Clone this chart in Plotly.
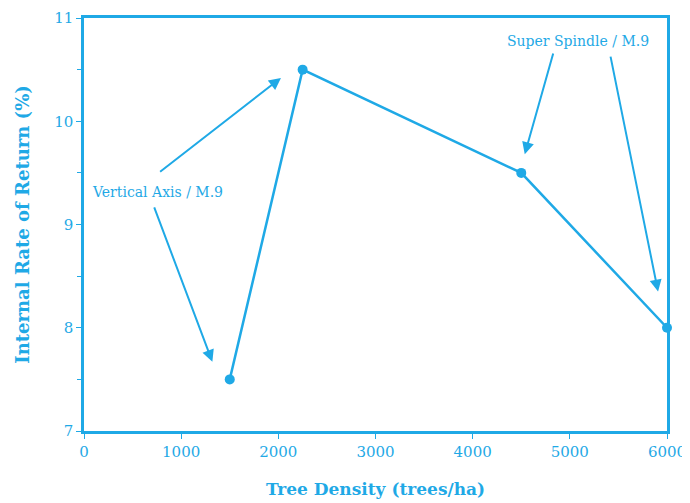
import plotly.graph_objects as go

density = [1500, 2250, 4500, 6000]
irr = [7.5, 10.5, 9.5, 8.0]

labels = ["Vertical Axis / M.9", "Super Spindle / M.9"]
label_pos = [(760, 9.31), (5080, 10.78)]
# arrows: (tail_x, tail_y, tip_x, tip_y)
arrows = [
    (768, 9.5, 2027, 10.42),
    (717, 9.18, 1321, 7.67),
    (4833, 10.67, 4536, 9.68),
    (5416, 10.64, 5908, 8.35),
]

C = "#1fa9e6"
FONT = "DejaVu Serif"

fig = go.Figure()
fig.add_trace(go.Scatter(
    x=density, y=irr, mode="lines+markers",
    line=dict(color=C, width=2.5),
    marker=dict(color=C, size=10),
    showlegend=False,
    cliponaxis=False,
))

ann = []
for t, (lx, ly) in zip(labels, label_pos):
    ann.append(dict(x=lx, y=ly, xref="x", yref="y", text=t, showarrow=False,
                    font=dict(family=FONT, size=14, color=C)))
for tx, ty, hx, hy in arrows:
    ann.append(dict(x=hx, y=hy, ax=tx, ay=ty, xref="x", yref="y",
                    axref="x", ayref="y", text="", showarrow=True,
                    arrowhead=2, arrowsize=1.2, arrowwidth=2, arrowcolor=C))

fig.update_layout(
    width=690, height=503,
    margin=dict(l=76, r=31, t=10, b=80),
    paper_bgcolor="white", plot_bgcolor="white",
    annotations=ann,
    font=dict(family=FONT, color=C),
)
fig.update_xaxes(
    range=[0, 6000], tickvals=[0, 1000, 2000, 3000, 4000, 5000, 6000],
    automargin=False,
    showgrid=False, zeroline=False, showline=True, linecolor=C, linewidth=2.5,
    mirror=True, ticks="outside", tickcolor=C, ticklen=5,
    tickfont=dict(family=FONT, size=15, color=C),
    title=dict(text="<b>Tree Density (trees/ha)</b>", font=dict(family=FONT, size=17, color=C), standoff=24),
)
fig.update_yaxes(
    range=[7, 11], tickvals=[7, 8, 9, 10, 11],
    automargin=False,
    showgrid=False, zeroline=False, showline=True, linecolor=C, linewidth=2.5,
    mirror=True, ticks="outside", tickcolor=C, ticklen=5,
    minor=dict(dtick=0.5, ticks="outside", ticklen=4, tickcolor=C),
    tickfont=dict(family=FONT, size=15, color=C),
    title=dict(text="<b>Internal Rate of Return (%)</b>", font=dict(family=FONT, size=18, color=C), standoff=20),
)

fig.write_html("out.html")
